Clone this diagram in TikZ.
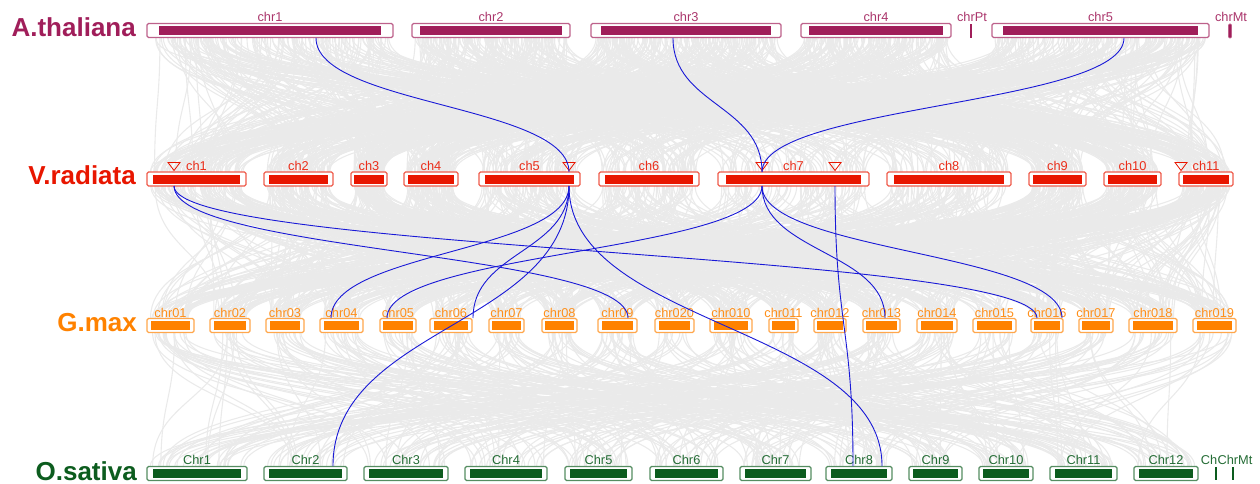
\documentclass[tikz,border=0pt]{standalone}
\usepackage{fontspec}
\setmainfont{Liberation Sans}
\usetikzlibrary{calc}
\definecolor{colA}{RGB}{160,30,90}
\definecolor{colV}{RGB}{232,22,0}
\definecolor{colG}{RGB}{255,130,0}
\definecolor{colO}{RGB}{12,92,30}
\definecolor{lnk}{RGB}{25,25,215}
\definecolor{bgl}{RGB}{234,234,234}
\tikzset{
  species/.style={font=\fontsize{26}{26}\selectfont\bfseries, anchor=base east, inner sep=0pt},
  chrlab/.style={font=\fontsize{12.8}{13}\selectfont, anchor=base, inner sep=0pt},
  outerbox/.style={draw, fill=white, line width=1.1pt, rounded corners=1.5pt, minimum height=14pt, inner sep=0pt},
  innerbar/.style={draw=none, minimum height=9pt, inner sep=0pt},
  graylink/.style={draw=bgl, line width=1.1pt},
  bluelink/.style={draw=lnk, line width=0.9pt},
  markertri/.style={draw=colV, line width=0.8pt, line join=miter}
}
\newcommand\blink[2]{\draw[bluelink] let \p1=(#1), \p2=(#2) in (#1) .. controls (\x1,{0.5*\y1+0.5*\y2}) and (\x2,{0.5*\y1+0.5*\y2}) .. (#2);}
\newcommand\grow[8]{%
  \foreach \k in {1,...,\ngray}{
    \pgfmathsetmacro\ia{int(random(0,#3))}
    \pgfmathsetmacro\ib{int(random(0,#7))}
    \pgfmathsetmacro\xa{{#1}[\ia]+3+rnd*({#2}[\ia]-6)}
    \pgfmathsetmacro\xb{{#5}[\ib]+3+rnd*({#6}[\ib]-6)}
    \pgfmathsetmacro\ym{(#4+#8)/2}
    \draw[graylink] (\xa,#4) .. controls (\xa,\ym) and (\xb,\ym) .. (\xb,#8);
  }}
\begin{document}
\begin{tikzpicture}[x=1pt,y=-1pt]
\useasboundingbox (0,0) rectangle (1260,484);
\pgfmathsetseed{4242}
% ---------- gray background links ----------
\def\ngray{1000}
\grow{147,412,591,801,992}{246,158,190,150,217}{4}{38}{147,264,351,404,479,599,718,887,1029,1104,1179}{99,69,36,54,101,100,151,124,57,57,54}{10}{172}
\def\ngray{1000}
\grow{147,264,351,404,479,599,718,887,1029,1104,1179}{99,69,36,54,101,100,151,124,57,57,54}{10}{186}{147,210,266,320,380,430,489,542,598,655,710,769,814,863,917,973,1031,1079,1129,1193}{47,40,38,43,36,42,35,35,39,39,42,29,32,37,40,43,32,34,48,43}{19}{318}
\def\ngray{380}
\grow{147,210,266,320,380,430,489,542,598,655,710,769,814,863,917,973,1031,1079,1129,1193}{47,40,38,43,36,42,35,35,39,39,42,29,32,37,40,43,32,34,48,43}{19}{333}{147,264,364,465,565,650,740,826,909,979,1050,1134}{100,83,84,82,67,73,71,66,53,54,67,64}{11}{466}
% ---------- species names ----------
\node[species, text=colA] (spA) at (136,37) {A.thaliana};
\node[species, text=colV] (spV) at (136,184) {V.radiata};
\node[species, text=colG] (spG) at (137,331.5) {G.max};
\node[species, text=colO] (spO) at (137,480) {O.sativa};
% ---------- chromosomes ----------
\foreach \a/\b/\l/\n/\c/\yc/\yl in {
  147/393/chr1/A1/colA/30.5/21.7, 412/570/chr2/A2/colA/30.5/21.7, 591/781/chr3/A3/colA/30.5/21.7, 801/951/chr4/A4/colA/30.5/21.7, 992/1209/chr5/A5/colA/30.5/21.7,
  147/246/ch1/V1/colV/179/170, 264/333/ch2/V2/colV/179/170, 351/387/ch3/V3/colV/179/170, 404/458/ch4/V4/colV/179/170, 479/580/ch5/V5/colV/179/170, 599/699/ch6/V6/colV/179/170, 718/869/ch7/V7/colV/179/170, 887/1011/ch8/V8/colV/179/170, 1029/1086/ch9/V9/colV/179/170, 1104/1161/ch10/V10/colV/179/170, 1179/1233/ch11/V11/colV/179/170,
  147/194/chr01/G1/colG/325.5/317, 210/250/chr02/G2/colG/325.5/317, 266/304/chr03/G3/colG/325.5/317, 320/363/chr04/G4/colG/325.5/317, 380/416/chr05/G5/colG/325.5/317, 430/472/chr06/G6/colG/325.5/317, 489/524/chr07/G7/colG/325.5/317, 542/577/chr08/G8/colG/325.5/317, 598/637/chr09/G9/colG/325.5/317, 655/694/chr020/G20/colG/325.5/317, 710/752/chr010/G10/colG/325.5/317, 769/798/chr011/G11/colG/325.5/317, 814/846/chr012/G12/colG/325.5/317, 863/900/chr013/G13/colG/325.5/317, 917/957/chr014/G14/colG/325.5/317, 973/1016/chr015/G15/colG/325.5/317, 1031/1063/chr016/G16/colG/325.5/317, 1079/1113/chr017/G17/colG/325.5/317, 1129/1177/chr018/G18/colG/325.5/317, 1193/1236/chr019/G19/colG/325.5/317,
  147/247/Chr1/O1/colO/473.5/464, 264/347/Chr2/O2/colO/473.5/464, 364/448/Chr3/O3/colO/473.5/464, 465/547/Chr4/O4/colO/473.5/464, 565/632/Chr5/O5/colO/473.5/464, 650/723/Chr6/O6/colO/473.5/464, 740/811/Chr7/O7/colO/473.5/464, 826/892/Chr8/O8/colO/473.5/464, 909/962/Chr9/O9/colO/473.5/464, 979/1033/Chr10/O10/colO/473.5/464, 1050/1117/Chr11/O11/colO/473.5/464, 1134/1198/Chr12/O12/colO/473.5/464}{
  \pgfmathsetmacro\w{\b-\a}
  \pgfmathsetmacro\cx{(\a+\b)/2}
  \pgfmathsetmacro\iw{\w-2*(2+0.04*\w)}
  \node[outerbox, draw=\c!70, minimum width=\w pt] (\n) at (\cx,\yc) {};
  \node[innerbar, fill=\c, minimum width=\iw pt] (i\n) at (\cx,\yc) {};
  \node[chrlab, text=\c!90] (l\n) at (\cx,\yl) {\l};
}
% small chromosomes
\node[innerbar, fill=colA, minimum width=2.2pt, minimum height=14pt] (APt) at (971,31) {};
\node[chrlab, text=colA!90] (lAPt) at (972,21.7) {chrPt};
\node[draw=colA!70, fill=colA, line width=0.6pt, rounded corners=1pt, minimum width=3pt, minimum height=14pt, inner sep=0pt] (AMt) at (1230,31) {};
\node[chrlab, text=colA!90] (lAMt) at (1231,21.7) {chrMt};
\node[innerbar, fill=colO, minimum width=1.6pt, minimum height=13pt] (OUn) at (1216,473.5) {};
\node[innerbar, fill=colO, minimum width=1.6pt, minimum height=13pt] (OMt) at (1233,473.5) {};
\node[chrlab, text=colO!90] (lOMt) at (1235,464) {ChrMt};
\node[chrlab, text=colO!90, anchor=base east] (lOUn) at (lOMt.base west) {Ch};
% ---------- markers ----------
\foreach \t/\x in {t1/174, t5/569, t7/762, t7b/835, t11/1181}{
  \coordinate (\t) at (\x,170.5);
  \draw[markertri] (\t) -- ++(-6,-8) -- ++(12,0) -- cycle;
}
% ---------- link end points ----------
\coordinate (a1b) at (316,38);
\coordinate (a3b) at (673,38);
\coordinate (a5b) at (1124,38);
\coordinate (v5t) at (569,172);
\coordinate (v7t) at (762,172);
\coordinate (v1b) at (174,186);
\coordinate (v5b) at (569,186);
\coordinate (v7b) at (762,186);
\coordinate (v7bb) at (835,186);
\coordinate (g4t) at (331,318);
\coordinate (g5t) at (387,318);
\coordinate (g6t) at (473,318);
\coordinate (g9t) at (628,318);
\coordinate (g13t) at (885,318);
\coordinate (g16t) at (1037,318);
\coordinate (g16tb) at (1062,318);
\coordinate (o2t) at (333,466);
\coordinate (o8t) at (853,466);
\coordinate (o8tb) at (882,466);
% ---------- blue links ----------
\blink{a1b}{v5t}
\blink{a3b}{v7t}
\blink{a5b}{v7t}
\blink{v1b}{g9t}
\blink{v1b}{g16t}
\blink{v5b}{g4t}
\blink{v5b}{g6t}
\blink{v5b}{o2t}
\blink{v5b}{o8tb}
\blink{v7b}{g5t}
\blink{v7b}{g13t}
\blink{v7b}{g16tb}
\blink{v7bb}{o8t}
\end{tikzpicture}
\end{document}
